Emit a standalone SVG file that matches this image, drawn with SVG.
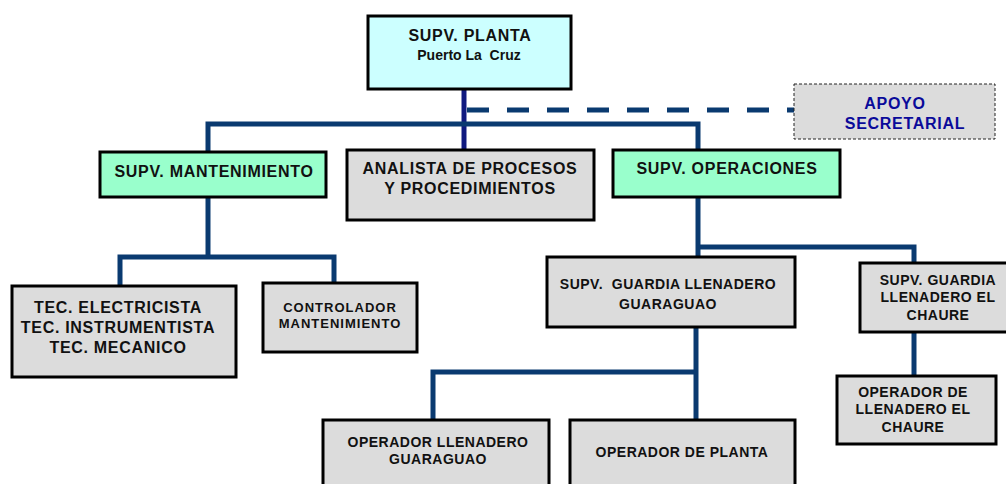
<svg xmlns="http://www.w3.org/2000/svg" width="1006" height="484" viewBox="0 0 1006 484">
<style>
.box{stroke:#000;stroke-width:3}
.gray{fill:#dcdcdc}
.cyan{fill:#ccffff}
.green{fill:#99ffcc}
.ln{fill:none;stroke:#0a3a70;stroke-width:5}
.t{font-family:"Liberation Sans",Arial,sans-serif;font-weight:bold;fill:#111;text-anchor:middle}
.t16{font-size:16px;letter-spacing:0.7px}
.t14{font-size:14px;letter-spacing:0.5px}
.t13{font-size:13px;letter-spacing:1px}
</style>
<rect width="1006" height="484" fill="#fff"/>
<g id="connectors">
<line x1="464" y1="89" x2="464" y2="150" stroke="#101a80" stroke-width="5"/>
<polyline class="ln" points="208,152 208,124 698,124 698,150"/>
<line x1="467" y1="110" x2="794" y2="110" stroke="#0a3a70" stroke-width="5" stroke-dasharray="22,18"/>
<line class="ln" x1="208" y1="197" x2="208" y2="257"/>
<polyline class="ln" points="120,286 120,257 334,257 334,283"/>
<line class="ln" x1="698" y1="197" x2="698" y2="257"/>
<polyline class="ln" points="698,247 914,247 914,263"/>
<line class="ln" x1="696" y1="327" x2="696" y2="420"/>
<polyline class="ln" points="696,372 433,372 433,420"/>
<line class="ln" x1="914" y1="332" x2="914" y2="376"/>
</g>
<g id="supv-planta">
<rect class="box cyan" x="368" y="16" width="203" height="73"/>
<text class="t t16" x="470" y="41">SUPV. PLANTA</text>
<text class="t t14" x="469" y="60" xml:space="preserve" style="letter-spacing:0">Puerto La  Cruz</text>
</g>
<g id="apoyo">
<rect x="794" y="84" width="201" height="55" fill="#dcdcdc" stroke="#222" stroke-width="1" stroke-dasharray="3,2"/>
<text class="t t16" x="895" y="109" style="fill:#0a0a9a">APOYO</text>
<text class="t t16" x="905" y="129" style="fill:#0a0a9a">SECRETARIAL</text>
</g>
<g id="supv-mant">
<rect class="box green" x="100" y="152" width="226" height="45"/>
<text class="t t16" x="214" y="177">SUPV. MANTENIMIENTO</text>
</g>
<g id="analista">
<rect class="box gray" x="347" y="150" width="247" height="70"/>
<text class="t t16" x="470" y="174">ANALISTA DE PROCESOS</text>
<text class="t t16" x="470" y="194">Y PROCEDIMIENTOS</text>
</g>
<g id="supv-oper">
<rect class="box green" x="613" y="150" width="227" height="47"/>
<text class="t t16" x="727" y="174">SUPV. OPERACIONES</text>
</g>
<g id="tec">
<rect class="box gray" x="12" y="286" width="224" height="91"/>
<text class="t t16" x="118" y="313">TEC. ELECTRICISTA</text>
<text class="t t16" x="118" y="333">TEC. INSTRUMENTISTA</text>
<text class="t t16" x="118" y="353">TEC. MECANICO</text>
</g>
<g id="controlador">
<rect class="box gray" x="263" y="283" width="154" height="69"/>
<text class="t t13" x="340" y="312">CONTROLADOR</text>
<text class="t t13" x="340" y="328">MANTENIMIENTO</text>
</g>
<g id="guardia-guaraguao">
<rect class="box gray" x="547" y="257" width="248" height="70"/>
<text class="t t14" x="668" y="289" xml:space="preserve">SUPV.  GUARDIA LLENADERO</text>
<text class="t t14" x="668" y="309">GUARAGUAO</text>
</g>
<g id="guardia-chaure">
<rect class="box gray" x="860" y="263" width="152" height="69"/>
<text class="t t14" x="938" y="285">SUPV. GUARDIA</text>
<text class="t t14" x="938" y="302">LLENADERO EL</text>
<text class="t t14" x="938" y="320">CHAURE</text>
</g>
<g id="op-chaure">
<rect class="box gray" x="837" y="376" width="159" height="68"/>
<text class="t t14" x="913" y="397">OPERADOR DE</text>
<text class="t t14" x="913" y="414">LLENADERO EL</text>
<text class="t t14" x="913" y="432">CHAURE</text>
</g>
<g id="op-guaraguao">
<rect class="box gray" x="323" y="420" width="226" height="80"/>
<text class="t t14" x="438" y="447">OPERADOR LLENADERO</text>
<text class="t t14" x="438" y="464">GUARAGUAO</text>
</g>
<g id="op-planta">
<rect class="box gray" x="570" y="420" width="225" height="80"/>
<text class="t t14" x="682" y="457">OPERADOR DE PLANTA</text>
</g>
</svg>
